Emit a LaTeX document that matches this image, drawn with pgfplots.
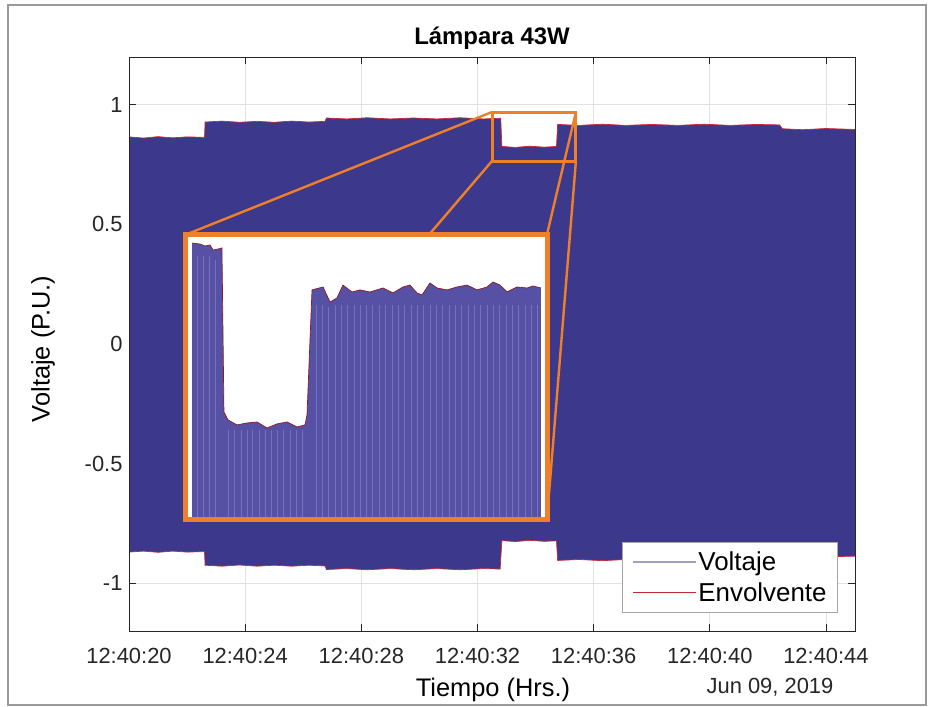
\documentclass[border=0pt]{standalone}
\usepackage{fontspec}
\setmainfont{Liberation Sans}
\usepackage{pgfplots}
\usepackage{pgfplotstable}
\pgfplotsset{compat=1.18}
\definecolor{vblue}{RGB}{60,57,140}
\definecolor{iblue}{RGB}{86,81,164}
\definecolor{istripe}{RGB}{118,113,188}
\definecolor{zorange}{RGB}{240,128,40}
\definecolor{axgray}{RGB}{38,38,38}
\definecolor{gridgray}{RGB}{226,226,226}
\definecolor{envred}{RGB}{200,40,50}
\definecolor{legblue}{RGB}{160,160,190}

% upper envelope (time s, p.u.)
\pgfplotstableread{
t v
20.00 0.866
20.50 0.861
21.00 0.867
21.50 0.862
22.00 0.866
22.60 0.864
22.62 0.928
23.20 0.932
23.80 0.927
24.40 0.931
25.00 0.927
25.60 0.932
26.20 0.928
26.75 0.931
26.80 0.945
27.50 0.941
28.20 0.946
29.00 0.941
29.80 0.945
30.60 0.941
31.40 0.946
32.20 0.941
32.80 0.944
32.84 0.826
33.30 0.822
33.80 0.827
34.30 0.823
34.72 0.826
34.76 0.918
35.50 0.914
36.30 0.919
37.10 0.914
38.00 0.918
38.90 0.914
39.80 0.919
40.70 0.914
41.60 0.918
42.40 0.916
42.50 0.900
43.20 0.896
44.00 0.901
45.00 0.897
}\uptab

% lower envelope
\pgfplotstableread{
t v
20.00 -0.870
20.50 -0.866
21.00 -0.871
21.50 -0.866
22.00 -0.870
22.60 -0.868
22.62 -0.925
23.20 -0.929
23.80 -0.924
24.40 -0.929
25.00 -0.925
25.60 -0.929
26.20 -0.925
26.75 -0.928
26.80 -0.943
27.50 -0.939
28.20 -0.944
29.00 -0.939
29.80 -0.944
30.60 -0.939
31.40 -0.944
32.20 -0.939
32.78 -0.941
32.84 -0.822
33.30 -0.826
33.80 -0.821
34.30 -0.825
34.72 -0.823
34.76 -0.905
35.50 -0.901
36.30 -0.906
37.10 -0.901
38.00 -0.905
38.90 -0.901
39.80 -0.906
40.70 -0.901
41.60 -0.905
42.40 -0.903
42.50 -0.890
43.20 -0.886
44.00 -0.890
45.00 -0.887
}\lotab

% voltage band: the area swept by the 60 Hz waveform (upper envelope, then lower envelope backwards)
\pgfplotstableread{
t v
20.00 0.866
20.50 0.861
21.00 0.867
21.50 0.862
22.00 0.866
22.60 0.864
22.62 0.928
23.20 0.932
23.80 0.927
24.40 0.931
25.00 0.927
25.60 0.932
26.20 0.928
26.75 0.931
26.80 0.945
27.50 0.941
28.20 0.946
29.00 0.941
29.80 0.945
30.60 0.941
31.40 0.946
32.20 0.941
32.80 0.944
32.84 0.826
33.30 0.822
33.80 0.827
34.30 0.823
34.72 0.826
34.76 0.918
35.50 0.914
36.30 0.919
37.10 0.914
38.00 0.918
38.90 0.914
39.80 0.919
40.70 0.914
41.60 0.918
42.40 0.916
42.50 0.900
43.20 0.896
44.00 0.901
45.00 0.897
45.00 -0.887
44.00 -0.890
43.20 -0.886
42.50 -0.890
42.40 -0.903
41.60 -0.905
40.70 -0.901
39.80 -0.906
38.90 -0.901
38.00 -0.905
37.10 -0.901
36.30 -0.906
35.50 -0.901
34.76 -0.905
34.72 -0.823
34.30 -0.825
33.80 -0.821
33.30 -0.826
32.84 -0.822
32.78 -0.941
32.20 -0.939
31.40 -0.944
30.60 -0.939
29.80 -0.944
29.00 -0.939
28.20 -0.944
27.50 -0.939
26.80 -0.943
26.75 -0.928
26.20 -0.925
25.60 -0.929
25.00 -0.925
24.40 -0.929
23.80 -0.924
23.20 -0.929
22.62 -0.925
22.60 -0.868
22.00 -0.870
21.50 -0.866
21.00 -0.871
20.50 -0.866
20.00 -0.870
}\bandtab

% zoomed envelope shown in the inset
\pgfplotstableread{
t v
32.556 0.9642
32.620 0.9635
32.660 0.9621
32.700 0.9628
32.724 0.9592
32.763 0.9599
32.795 0.9607
32.811 0.8427
32.843 0.8370
32.915 0.8334
32.995 0.8348
33.075 0.8355
33.155 0.8312
33.234 0.8341
33.314 0.8355
33.394 0.8319
33.458 0.8334
33.474 0.8406
33.514 0.9305
33.602 0.9326
33.658 0.9218
33.713 0.9247
33.761 0.9340
33.833 0.9290
33.897 0.9305
33.977 0.9290
34.081 0.9319
34.160 0.9283
34.240 0.9326
34.296 0.9340
34.352 0.9283
34.392 0.9269
34.456 0.9355
34.512 0.9319
34.592 0.9305
34.671 0.9326
34.751 0.9340
34.831 0.9305
34.911 0.9326
34.959 0.9362
35.015 0.9340
35.071 0.9290
35.150 0.9326
35.230 0.9319
35.278 0.9333
35.342 0.9319
}\instab

% individual cycles visible in the inset
\pgfplotstableread{
t v
32.596 0.955
32.644 0.955
32.692 0.955
32.739 0.952
32.843 0.830
32.891 0.830
32.947 0.830
32.995 0.830
33.035 0.830
33.091 0.830
33.139 0.830
33.187 0.830
33.234 0.830
33.282 0.830
33.338 0.830
33.386 0.830
33.434 0.830
33.546 0.920
33.594 0.920
33.642 0.918
33.697 0.920
33.745 0.920
33.793 0.920
33.849 0.920
33.897 0.920
33.945 0.920
33.993 0.920
34.049 0.920
34.097 0.920
34.152 0.920
34.200 0.920
34.248 0.920
34.304 0.920
34.352 0.920
34.400 0.920
34.456 0.920
34.504 0.920
34.552 0.920
34.608 0.920
34.655 0.920
34.703 0.920
34.759 0.920
34.807 0.920
34.855 0.920
34.911 0.920
34.959 0.920
35.007 0.920
35.063 0.920
35.110 0.920
35.158 0.920
35.214 0.920
35.262 0.920
35.310 0.920
}\strtab

\begin{document}
\begin{tikzpicture}
\fill[white] (0bp,0bp) rectangle (933bp,707bp);
\draw[gray!80, line width=1.2bp] (8bp,2bp) rectangle (926bp,702bp);

\begin{axis}[
  at={(129bp,76bp)}, anchor=south west,
  width=726bp, height=574bp, scale only axis,
  xmin=20, xmax=45, ymin=-1.2, ymax=1.2,
  xtick={20,24,28,32,36,40,44},
  xticklabels={12:40:20,12:40:24,12:40:28,12:40:32,12:40:36,12:40:40,12:40:44},
  ytick={-1,-0.5,0,0.5,1},
  yticklabels={-1,-0.5,0,0.5,1},
  tick align=inside, tick pos=both,
  major tick length=7bp,
  tick style={axgray, line width=0.8bp},
  axis line style={axgray, line width=0.8bp},
  grid=major,
  major grid style={gridgray, line width=0.7bp},
  ticklabel style={font=\fontsize{22}{25}\selectfont, text=black!85},
  xticklabel style={yshift=-14bp},
  yticklabel style={xshift=-3bp},
  legend style={at={(0.9766,0.0314)}, anchor=south east,
    font=\fontsize{26}{29}\selectfont, draw=gray!70, line width=0.8bp,
    fill=white, inner xsep=9bp, inner ysep=8bp, row sep=6bp,
    nodes={inner sep=2bp}},
  legend image code/.code={\draw[#1] (0bp,0bp) -- (63bp,0bp);},
  legend cell align=left,
]
\addplot[fill=vblue, draw=none, forget plot] table[x=t,y=v] {\bandtab};
\addplot[envred, line width=0.7bp, forget plot] table[x=t,y=v] {\uptab};
\addplot[envred, line width=0.7bp, forget plot] table[x=t,y=v] {\lotab};

\draw[zorange, line width=2.4bp] (axis cs:32.50,0.970) -- (axis cs:21.93,0.456);
\draw[zorange, line width=2.4bp] (axis cs:32.50,0.765) -- (axis cs:21.93,-0.736);
\draw[zorange, line width=2.4bp] (axis cs:35.39,0.970) -- (axis cs:34.39,0.456);
\draw[zorange, line width=2.4bp] (axis cs:35.39,0.765) -- (axis cs:34.39,-0.736);
\draw[zorange, line width=3bp] (axis cs:32.50,0.765) rectangle (axis cs:35.39,0.970);

\addlegendimage{legblue, line width=1.6bp}
\addlegendentry{Voltaje}
\addlegendimage{envred, line width=0.8bp}
\addlegendentry{Envolvente}
\draw[axgray, line width=0.8bp] (rel axis cs:0,0) rectangle (rel axis cs:1,1);
\end{axis}

\begin{axis}[
  at={(185bp,187bp)}, anchor=south west,
  width=362bp, height=285bp, scale only axis,
  xmin=32.5, xmax=35.39, ymin=0.765, ymax=0.970,
  ticks=none, axis on top,
  axis line style={zorange, line width=5bp},
  axis background/.style={fill=white},
]
\addplot[fill=iblue, draw=none] table[x=t,y=v] {\instab} \closedcycle;
\addplot[ycomb, istripe, line width=0.8bp] table[x=t,y=v] {\strtab};
\addplot[envred!70!black, line width=0.7bp] table[x=t,y=v] {\instab};
\end{axis}

\node[font=\bfseries\fontsize{24}{27}\selectfont] at (492bp,669bp) {Lámpara 43W};
\node[font=\fontsize{25.5}{28}\selectfont] at (493bp,17bp) {Tiempo (Hrs.)};
\node[font=\fontsize{25.5}{28}\selectfont, rotate=90] at (43bp,358bp) {Voltaje (P.U.)};
\node[font=\fontsize{22}{25}\selectfont, text=black!85] at (770bp,20bp) {Jun 09, 2019};
\end{tikzpicture}
\end{document}
